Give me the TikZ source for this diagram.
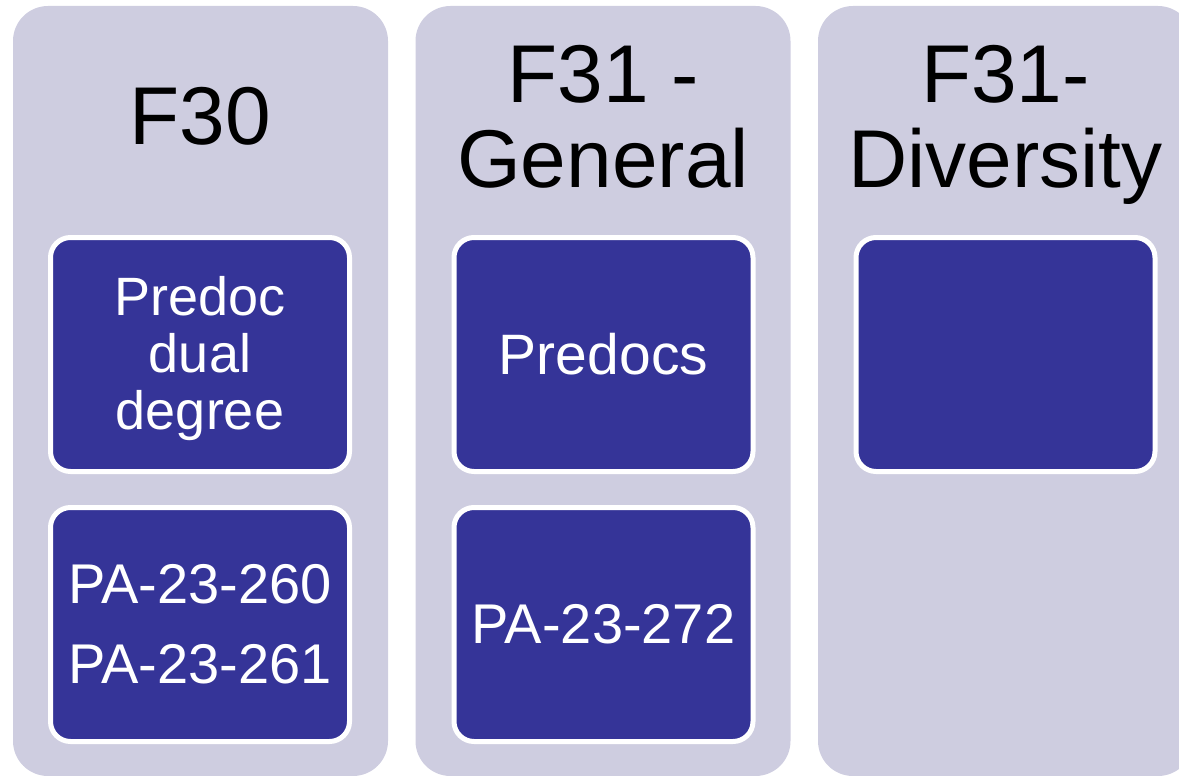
\documentclass[tikz,border=0pt]{standalone}
\usepackage{fontspec}
\setmainfont{Liberation Sans}
\definecolor{lavender}{RGB}{206,205,224}
\definecolor{navy}{RGB}{53,52,152}
\begin{document}
\begin{tikzpicture}
  [x=1pt,y=-1pt,
   lane/.style={rectangle,rounded corners=35pt,fill=lavender,minimum width=375pt,minimum height=770pt},
   lanetitle/.style={anchor=north,inner sep=0pt,align=center,font=\fontsize{82}{85}\selectfont},
   cell/.style={rectangle,rounded corners=20pt,fill=navy,draw=white,line width=5pt,text=white,align=center,
     minimum width=299pt,minimum height=234pt,inner sep=0pt,font=\fontsize{56}{62}\selectfont}]
  \useasboundingbox (0,0) rectangle (1179,776);

  \foreach \i/\x in {1/200.5,2/603,3/1005.5}
    \node[lane] (col\i) at (\x,391) {};

  \node[lanetitle] (t1) at (200.5,87) {F30};
  \node[lanetitle] (t2) at (603,45) {F31 -\\General};
  \node[lanetitle] (t3) at (1005.5,45) {F31-\\Diversity};

  % extra strut height on the first line pushes the three lines down a little
  \node[cell,font=\fontsize{54}{57}\selectfont] (b11) at (200,354.5) {\rule{0pt}{48pt}Predoc\\dual\\degree};
  \node[cell,font=\fontsize{56}{80}\selectfont] (b12) at (200,624.5) {PA-23-260\\PA-23-261};
  \node[cell,font=\fontsize{57}{62}\selectfont] (b21) at (603.5,354.5) {Predocs};
  \node[cell] (b22) at (603.5,624.5) {PA-23-272};
  \node[cell] (b31) at (1005.5,354.5) {};
\end{tikzpicture}
\end{document}
